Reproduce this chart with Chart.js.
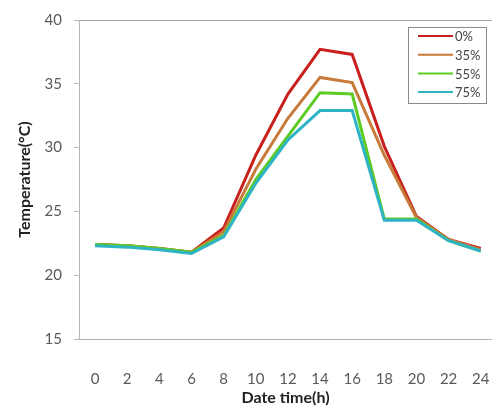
<!DOCTYPE html>
<html>
<head>
<meta charset="utf-8">
<script src="https://cdn.jsdelivr.net/npm/chart.js@4"></script>
<style>
	html, body { margin: 0; padding: 0; background: #fff; }
	#wrap { width: 492px; height: 410px; }
</style>
</head>
<body>
<div id="wrap"><canvas id="temps"></canvas></div>
<script>
const hours = [0, 2, 4, 6, 8, 10, 12, 14, 16, 18, 20, 22, 24];
const shade0 = [22.4, 22.3, 22.1, 21.8, 23.7, 29.4, 34.2, 37.7, 37.3, 30.1, 24.6, 22.8, 22.1];
const shade35 = [22.4, 22.3, 22.1, 21.8, 23.4, 28.3, 32.3, 35.5, 35.1, 29.4, 24.5, 22.8, 22.0];
const shade55 = [22.4, 22.3, 22.1, 21.8, 23.1, 27.5, 30.9, 34.3, 34.2, 24.4, 24.4, 22.7, 21.9];
const shade75 = [22.3, 22.2, 22.0, 21.7, 23.0, 27.2, 30.6, 32.9, 32.9, 24.3, 24.3, 22.7, 21.9];
const seriesNames = ['0%', '35%', '55%', '75%'];
const yTicks = [15, 20, 25, 30, 35, 40];

const colors = ['#c8201c', '#c87a3a', '#5ccc22', '#2eb4c4'];
const font = 'Lato, "Open Sans", sans-serif';

const series = [shade0, shade35, shade55, shade75].map((vals, i) => ({
	label: seriesNames[i],
	data: vals.map((v, j) => ({ x: hours[j], y: v })),
	borderColor: colors[i],
	backgroundColor: colors[i],
	borderWidth: 3,
	pointRadius: 0,
	tension: 0,
	order: 4 - i
}));

// legend box drawn inside the plot, top right
const boxLegend = {
	id: 'boxLegend',
	afterDraw(chart) {
		const ctx = chart.ctx;
		const x = 408.5, y = 27.5, w = 78, h = 76;
		ctx.save();
		ctx.fillStyle = '#fff';
		ctx.fillRect(x, y, w, h);
		ctx.strokeStyle = '#8a8a8a';
		ctx.lineWidth = 1;
		ctx.strokeRect(x, y, w, h);
		ctx.font = '13px ' + font;
		ctx.textBaseline = 'middle';
		chart.data.datasets.forEach((ds, i) => {
			const ly = 36 + i * 18.7;
			ctx.strokeStyle = ds.borderColor;
			ctx.lineWidth = 2;
			ctx.beginPath();
			ctx.moveTo(418, ly);
			ctx.lineTo(453, ly);
			ctx.stroke();
			ctx.fillStyle = '#444';
			ctx.fillText(ds.label, 455, ly + 1);
		});
		ctx.restore();
	}
};

new Chart(document.getElementById('temps'), {
	type: 'line',
	data: { datasets: series },
	plugins: [boxLegend],
	options: {
		responsive: true,
		maintainAspectRatio: false,
		animation: false,
		layout: { padding: { top: 20, right: 0, left: 0, bottom: 0 } },
		plugins: {
			legend: { display: false },
			tooltip: { enabled: false }
		},
		scales: {
			x: {
				type: 'linear',
				min: -1,
				max: 24.7,
				afterBuildTicks: axis => { axis.ticks = hours.map(v => ({ value: v })); },
				afterFit: axis => {
					axis.height = 71;
					axis.paddingLeft = 0;
					axis.paddingRight = 0;
				},
				grid: { display: false },
				border: { display: true, color: '#b4b4b4', width: 1 },
				ticks: {
					padding: 23,
					color: '#5a5a5a',
					font: { family: font, size: 15 },
					maxRotation: 0,
					autoSkip: false
				},
				title: {
					display: true,
					text: 'Date time(h)',
					color: '#222',
					font: { family: font, size: 16, weight: 'bold' },
					padding: { top: 0, bottom: 3 }
				}
			},
			y: {
				min: 15,
				max: 40,
				afterBuildTicks: axis => { axis.ticks = yTicks.map(v => ({ value: v })); },
				afterFit: axis => {
					axis.width = 79;
					axis.paddingTop = 0;
					axis.paddingBottom = 0;
				},
				grid: {
					color: c => (c.tick && c.tick.value === 40) ? '#a8a8a8' : 'rgba(0,0,0,0)',
					tickColor: '#b4b4b4',
					tickLength: 5
				},
				border: { display: true, color: '#b4b4b4', width: 1 },
				ticks: {
					padding: 12,
					color: '#5a5a5a',
					font: { family: font, size: 15 }
				},
				title: {
					display: true,
					text: 'Temperature(°C)',
					color: '#222',
					font: { family: font, size: 16, weight: 'bold' },
					padding: { top: 15, bottom: 0 }
				}
			}
		}
	}
});
</script>
</body>
</html>
